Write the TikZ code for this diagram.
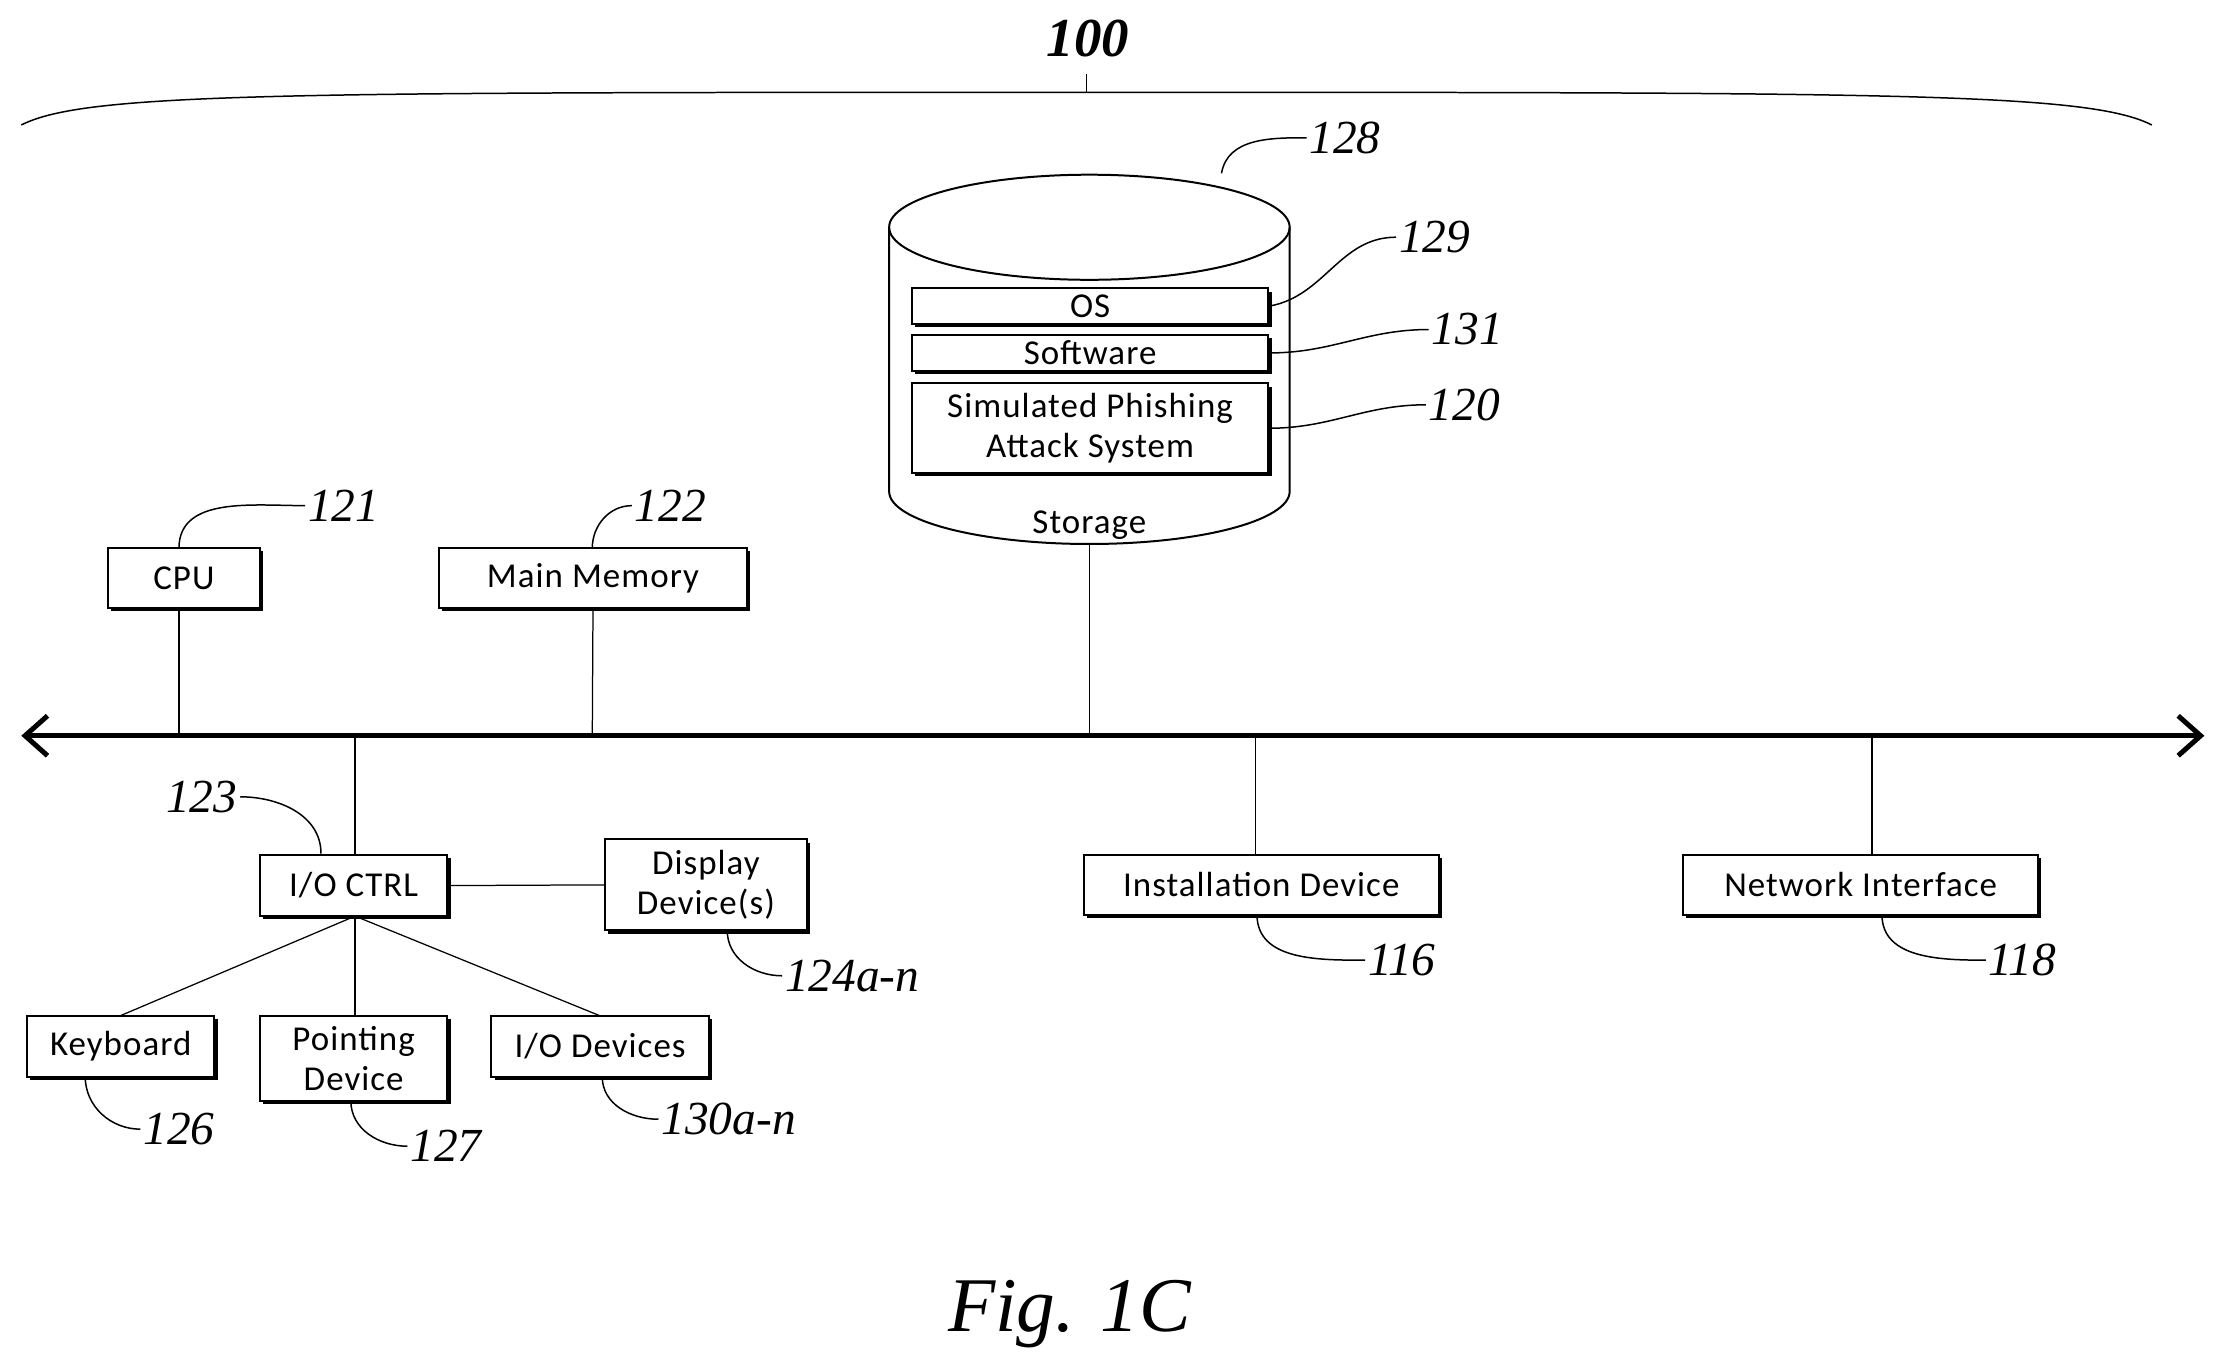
\documentclass[tikz,border=0pt]{standalone}
\usepackage{fontspec}
\setmainfont{Carlito}[LetterSpace=3]
\newfontfamily\lbl{Liberation Serif}
\usetikzlibrary{shapes.geometric,shadows,arrows.meta}
\begin{document}
\begin{tikzpicture}[x=0.02cm,y=-0.02cm,
 box/.style={draw,line width=0.8pt,fill=white,align=center,font=\fontsize{14}{15}\selectfont,inner sep=0pt,
   drop shadow={shadow xshift=1.3pt,shadow yshift=-1.3pt,fill=black,opacity=1}},
 lab/.style={font=\lbl\itshape\fontsize{19}{21}\selectfont,inner sep=1pt},
 lead/.style={line width=0.6pt},
 conn/.style={line width=0.5pt}]
\useasboundingbox (0,0) rectangle (1563,963);
% brace
\draw[line width=0.6pt] (15,88) .. controls (60,65) and (200,65) .. (765,65) .. controls (1330,65) and (1470,65) .. (1515,88);
\draw[line width=0.6pt] (765,65) -- (765,52);
\node[font=\lbl\bfseries\itshape\fontsize{22}{24}\selectfont] (t100) at (766,27) {100};
% cylinder
\draw[line width=0.8pt,fill=white] (626,160) -- (626,346) arc[start angle=180,end angle=360,x radius=141,y radius=-37] -- (908,160);
\draw[line width=0.8pt] (767,160) ellipse[x radius=141,y radius=37];
\node[font=\fontsize{14}{15}\selectfont] (stor) at (767,370) {Storage};
\coordinate (storb) at (767,383);
\node[box,minimum width=251*0.02cm,minimum height=25*0.02cm] (os) at (767.5,215.5) {OS};
\node[box,minimum width=251*0.02cm,minimum height=25*0.02cm] (sw) at (767.5,248.5) {Software};
\node[box,minimum width=251*0.02cm,minimum height=63*0.02cm] (sim) at (767.5,301.5) {Simulated Phishing\\[1pt]Attack System};
\node[lab] (l128) at (947,97) {128};
\node[lab] (l129) at (1010,167) {129};
\node[lab] (l131) at (1033,232) {131};
\node[lab] (l120) at (1031,285) {120};
\coordinate (c128) at (860,122);
\draw[lead] (c128) to[out=80,in=180] (l128.west);
\draw[lead] (os.east) to[out=10,in=180] (l129.west);
\draw[lead] (sw.east) to[out=0,in=180] (l131.west);
\draw[lead] (sim.east) to[out=0,in=180] (l120.west);
% top boxes
\node[box,minimum width=107*0.02cm,minimum height=42*0.02cm] (cpu) at (129.5,407) {CPU};
\node[box,minimum width=217*0.02cm,minimum height=42*0.02cm] (mm) at (417.5,407) {Main Memory};
\node[lab] (l121) at (242,356) {121};
\node[lab] (l122) at (472,356) {122};
\draw[lead] (126,386) to[out=90,in=180] (l121.west);
\draw[lead] (417,386) to[out=90,in=180] (l122.west);
% bus
\coordinate (busL) at (15,518);
\coordinate (busR) at (1552,518);
\draw[line width=2pt,{Straight Barb[length=9pt,width=16pt,line width=2pt]}-{Straight Barb[length=9pt,width=16pt,line width=2pt]}] (busL) -- (busR);
\coordinate (bcpu) at (126,518);
\coordinate (bmm) at (417,518);
\coordinate (bst) at (767,518);
\coordinate (bio) at (250,518);
\coordinate (bin) at (884,518);
\coordinate (bnet) at (1318,518);
\draw[conn] (126,428) -- (bcpu);
\draw[conn] (mm.south) -- (bmm);
\draw[conn] (storb) -- (bst);
% lower boxes
\node[box,minimum width=132*0.02cm,minimum height=43*0.02cm] (io) at (249,623.5) {I/O CTRL};
\node[box,minimum width=142*0.02cm,minimum height=64*0.02cm] (disp) at (497,623) {Display\\[1pt]Device(s)};
\node[box,minimum width=250*0.02cm,minimum height=42*0.02cm] (inst) at (888,623) {Installation Device};
\node[box,minimum width=250*0.02cm,minimum height=42*0.02cm] (net) at (1310,623) {Network Interface};
\node[box,minimum width=132*0.02cm,minimum height=43*0.02cm] (kb) at (85,736.5) {Keyboard};
\node[box,minimum width=132*0.02cm,minimum height=60*0.02cm] (pd) at (249,745) {Pointing\\[1pt]Device};
\node[box,minimum width=153*0.02cm,minimum height=43*0.02cm] (iod) at (422.5,736.5) {I/O Devices};
\draw[conn] (bio) -- (250,602);
\draw[conn] (bin) -- (884,602);
\draw[conn] (bnet) -- (1318,602);
\draw[conn] (io.east) -- (disp.west);
\draw[conn] (250,645) -- (85,715);
\draw[conn] (250,645) -- (250,715);
\draw[conn] (250,645) -- (422,715);
% labels
\node[lab] (l123) at (142,561) {123};
\node[lab] (l124) at (600,687) {124a-n};
\node[lab] (l126) at (126,795) {126};
\node[lab] (l127) at (314,807) {127};
\node[lab] (l130) at (513,788) {130a-n};
\node[lab] (l116) at (987,676) {116};
\node[lab] (l118) at (1424,676) {118};
\draw[lead] (l123.east) to[out=0,in=90] (226,601);
\draw[lead] (512,655) to[out=-90,in=180] (l124.west);
\draw[lead] (60,758) to[out=-90,in=180] (l126.west);
\draw[lead] (247,775) to[out=-90,in=180] (l127.west);
\draw[lead] (424,758) to[out=-90,in=180] (l130.west);
\draw[lead] (885,644) to[out=-90,in=180] (l116.west);
\draw[lead] (1325,644) to[out=-90,in=180] (l118.west);
\node[font=\lbl\itshape\fontsize{31}{33}\selectfont] (fig) at (753,925) {Fig. 1C};
\end{tikzpicture}
\end{document}
